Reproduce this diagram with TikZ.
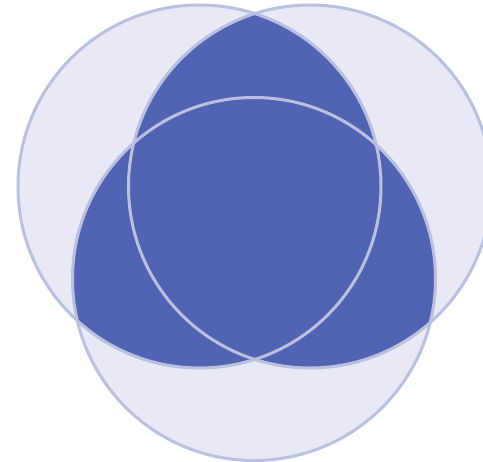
\documentclass[tikz,border=0pt]{standalone}
\definecolor{lightfill}{HTML}{E8E9F5}
\definecolor{darkfill}{HTML}{5064B3}
\definecolor{ringcol}{HTML}{BAC0E0}
\tikzset{ring/.style={draw=ringcol,line width=3pt}}
\begin{document}
\begin{tikzpicture}[x=1pt,y=-1pt]
\useasboundingbox (0,0) rectangle (483,462);
\coordinate (L) at (199.5,186.5);
\coordinate (R) at (310,186.5);
\coordinate (B) at (254,279);
\def\rad{181.5}
% light discs
\fill[lightfill] (L) circle (\rad);
\fill[lightfill] (R) circle (\rad);
\fill[lightfill] (B) circle (\rad);
% pairwise overlaps
\begin{scope}\clip (L) circle (\rad); \fill[darkfill] (R) circle (\rad); \fill[darkfill] (B) circle (\rad);\end{scope}
\begin{scope}\clip (R) circle (\rad); \fill[darkfill] (B) circle (\rad);\end{scope}
% outlines
\draw[ring] (L) circle (\rad);
\draw[ring] (R) circle (\rad);
\draw[ring] (B) circle (\rad);
\end{tikzpicture}
\end{document}
